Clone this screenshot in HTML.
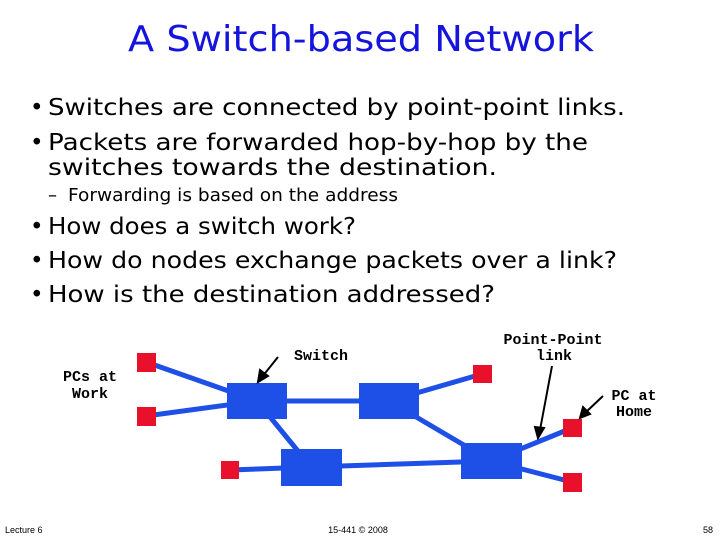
<!DOCTYPE html>
<html><head><style>body{margin:0;background:#fff}svg{display:block}</style></head><body>
<svg width="720" height="540" xmlns="http://www.w3.org/2000/svg" font-family="DejaVu Sans, Liberation Sans, sans-serif">
<text x="128" y="51" font-size="36" fill="#1414dc" textLength="466" lengthAdjust="spacingAndGlyphs">A Switch-based Network</text>
<g fill="#000" font-size="23">
<text x="30" y="115">•</text><text x="48" y="115" textLength="577" lengthAdjust="spacingAndGlyphs">Switches are connected by point-point links.</text>
<text x="30" y="150">•</text><text x="48" y="150" textLength="540" lengthAdjust="spacingAndGlyphs">Packets are forwarded hop-by-hop by the</text>
<text x="48" y="175" textLength="449" lengthAdjust="spacingAndGlyphs">switches towards the destination.</text>
<text x="48" y="201" font-size="18">–</text><text x="68" y="201" font-size="18" textLength="330" lengthAdjust="spacingAndGlyphs">Forwarding is based on the address</text>
<text x="30" y="234">•</text><text x="48" y="234" textLength="308" lengthAdjust="spacingAndGlyphs">How does a switch work?</text>
<text x="30" y="268">•</text><text x="48" y="268" textLength="569" lengthAdjust="spacingAndGlyphs">How do nodes exchange packets over a link?</text>
<text x="30" y="302">•</text><text x="48" y="302" textLength="447" lengthAdjust="spacingAndGlyphs">How is the destination addressed?</text>
</g>
<g stroke="#1e4fe6" stroke-width="5">
<line x1="146" y1="362" x2="257" y2="401"/>
<line x1="146" y1="416" x2="257" y2="401"/>
<line x1="257" y1="401" x2="389" y2="401"/>
<line x1="257" y1="401" x2="311" y2="467"/>
<line x1="389" y1="401" x2="482" y2="374"/>
<line x1="389" y1="401" x2="491" y2="461"/>
<line x1="230" y1="470" x2="311" y2="467"/>
<line x1="311" y1="467" x2="491" y2="461"/>
<line x1="491" y1="461" x2="572" y2="428"/>
<line x1="491" y1="461" x2="572" y2="482"/>
</g>
<g fill="#1e4fe6">
<rect x="227" y="383" width="60" height="36"/>
<rect x="359" y="383" width="60" height="36"/>
<rect x="281" y="449" width="61" height="37"/>
<rect x="461" y="443" width="61" height="36"/>
</g>
<g fill="#e8102a">
<rect x="137" y="353" width="19" height="19"/>
<rect x="137" y="407" width="19" height="19"/>
<rect x="221" y="461" width="18" height="18"/>
<rect x="473" y="365" width="19" height="18"/>
<rect x="563" y="419" width="19" height="18"/>
<rect x="563" y="473" width="19" height="19"/>
</g>
<g stroke="#000" stroke-width="2" fill="#000">
<line x1="278" y1="357" x2="262" y2="377"/><polygon points="258,382 260,370 268,376"/>
<line x1="552" y1="366" x2="540" y2="430"/><polygon points="538,438 535,427 544,428"/>
<line x1="603" y1="396" x2="585" y2="413"/><polygon points="580,418 583,407 590,414"/>
</g>
<g font-family="Liberation Mono, monospace" font-weight="bold" font-size="15" fill="#000" text-anchor="middle">
<text x="321" y="360">Switch</text>
<text x="553" y="344">Point-Point</text>
<text x="554" y="360">link</text>
<text x="90" y="381">PCs at</text>
<text x="90" y="398">Work</text>
<text x="634" y="400">PC at</text>
<text x="634" y="416">Home</text>
</g>
<g font-size="9" fill="#000" font-family="Liberation Sans, sans-serif">
<text x="5" y="533">Lecture 6</text>
<text x="358" y="533" text-anchor="middle">15-441 © 2008</text>
<text x="713" y="533" text-anchor="end">58</text>
</g>
</svg>
</body></html>
